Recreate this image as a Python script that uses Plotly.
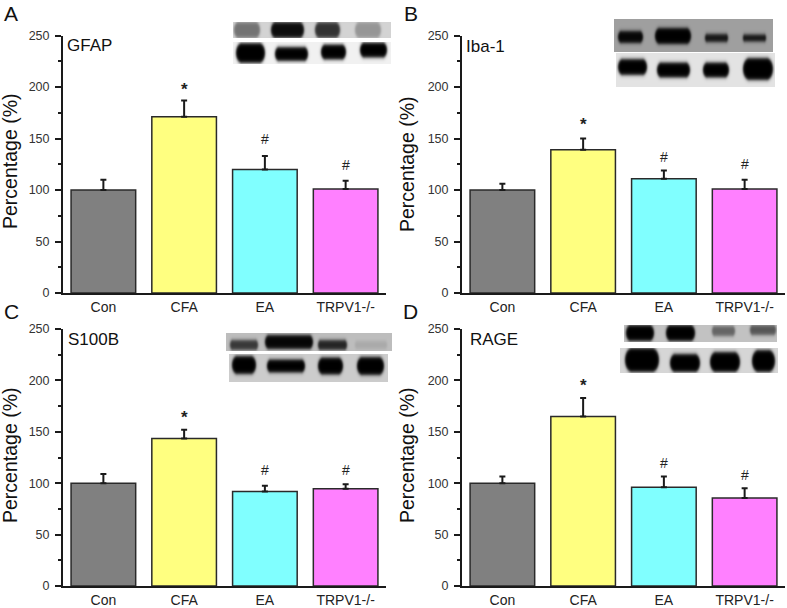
import base64, struct, zlib
import numpy as np
import plotly.graph_objects as go

W, H = 787, 608
categories = ["Con", "CFA", "EA", "TRPV1-/-"]
colors = ["#808080", "#FFFF80", "#80FFFF", "#FF80FF"]

gfap_values = [100, 171, 120, 101]
gfap_errors = [10, 16, 13, 8]
iba1_values = [100, 139, 111, 101]
iba1_errors = [6, 11, 8, 9]
s100b_values = [100, 143.5, 92, 94.5]
s100b_errors = [9, 8.5, 5.5, 4.5]
rage_values = [100, 165, 96, 85.5]
rage_errors = [6.5, 18, 10.5, 9.5]

gfap_marks = [None, "*", "#", "#"]
gfap_mark_y = [None, 198, 150, 124]
iba1_marks = [None, "*", "#", "#"]
iba1_mark_y = [None, 164, 132, 125]
s100b_marks = [None, "*", "#", "#"]
s100b_mark_y = [None, 164, 113, 113]
rage_marks = [None, "*", "#", "#"]
rage_mark_y = [None, 195, 120, 108]

# (letter, letter x, letter y, name, name x, name y, ylabel x, ylabel y, plot left, plot right, y top, y bottom)
panels = [
    ("A", 11, 13, "GFAP", 65, 45, 10, 162, 63, 386, 35.5, 293, gfap_values, gfap_errors, gfap_marks, gfap_mark_y),
    ("B", 411, 13, "Iba-1", 464, 47, 407, 165, 462, 785, 35.5, 293, iba1_values, iba1_errors, iba1_marks, iba1_mark_y),
    ("C", 11, 311, "S100B", 66, 339, 10, 456, 63, 386, 329, 586, s100b_values, s100b_errors, s100b_marks, s100b_mark_y),
    ("D", 410, 311, "RAGE", 468, 339, 407, 456, 462, 785, 329, 586, rage_values, rage_errors, rage_marks, rage_mark_y),
]

# Western-blot insets: (x0, x1, y0, y1, background, [(bx0, bx1, cy, half_h, darkness), ...])
blots = [
    (233, 391, 22, 38, 212, [(234, 260, 30, 8, 115), (271, 304, 30, 8, 12), (315, 340, 30, 8, 50), (355, 381, 30, 8, 150)]),
    (233, 391, 42, 64, 242, [(236, 265, 53, 10, 0), (275, 308, 54, 7, 0), (321, 346, 52, 7.5, 0), (360, 387, 50, 7.5, 0)]),
    (614, 773, 19, 52, 160, [(618, 643, 37, 6, 5), (655, 691, 36, 8, 0), (705, 728, 38, 4, 20), (743, 766, 38, 3.5, 20)]),
    (616, 775, 53, 87, 228, [(618, 647, 67, 8, 0), (657, 690, 70, 7.5, 0), (703, 729, 70, 7.5, 0), (743, 773, 69, 11, 0)]),
    (226, 392, 333, 351, 190, [(230, 258, 345, 5, 55), (265, 313, 342, 7, 5), (318, 347, 345, 5, 35), (355, 387, 345, 4, 170)]),
    (229, 388, 354, 382, 205, [(232, 256, 365, 9, 0), (267, 305, 366, 6.5, 0), (318, 343, 366, 8.5, 0), (357, 384, 366, 9, 0)]),
    (624, 777, 325, 342, 195, [(626, 654, 333, 8, 0), (666, 695, 333, 8, 0), (712, 735, 331, 5, 100), (750, 776, 330, 5, 85)]),
    (620, 778, 348, 373, 215, [(625, 659, 360, 12, 0), (670, 700, 363, 9, 0), (710, 740, 362, 10, 0), (752, 775, 361, 11, 0)]),
]


def png_uri(arr):
    h, w = arr.shape
    raw = b"".join(b"\x00" + arr[i].tobytes() for i in range(h))

    def chunk(t, d):
        return struct.pack(">I", len(d)) + t + d + struct.pack(">I", zlib.crc32(t + d) & 0xffffffff)

    data = b"\x89PNG\r\n\x1a\n" + chunk(b"IHDR", struct.pack(">IIBBBBB", w, h, 8, 0, 0, 0, 0)) \
        + chunk(b"IDAT", zlib.compress(raw)) + chunk(b"IEND", b"")
    return "data:image/png;base64," + base64.b64encode(data).decode()


def blot_image(x0, x1, y0, y1, bg, bands):
    xs, ys = np.meshgrid(np.arange(x0, x1) + 0.5, np.arange(y0, y1) + 0.5)
    img = np.full(xs.shape, float(bg))
    for bx0, bx1, cy, hh, dark in bands:
        cx, hw = (bx0 + bx1) / 2, (bx1 - bx0) / 2
        dx = np.maximum(np.abs(xs - cx) - (hw - hh * 0.6), 0) / (hh * 0.6)
        dy = np.abs(ys - cy) / hh
        r = np.sqrt(dx ** 2 + dy ** 2)
        a = 1 / (1 + np.exp((r - 1) * hh / 1.1))
        img = img * (1 - a) + dark * a
    return np.clip(img, 0, 255).astype(np.uint8)


fig = go.Figure()
annotations, images = [], []
FONT = "Liberation Sans, Arial, sans-serif"
INK = "#1a1a1a"

for i, p in enumerate(panels, start=1):
    letter, lx, ly, name, nx, ny, tx, ty, left, right, top, bottom, vals, errs, marks, mark_y = p
    xa, ya = ("x", "y") if i == 1 else (f"x{i}", f"y{i}")
    fig.add_trace(go.Bar(
        x=categories, y=vals, xaxis=xa, yaxis=ya, width=0.8, showlegend=False,
        marker=dict(color=colors, line=dict(color="#2a2a2a", width=1.5)),
        error_y=dict(type="data", symmetric=False, array=errs, arrayminus=[0] * 4,
                     color=INK, thickness=2, width=3),
    ))
    key = "" if i == 1 else str(i)
    fig.update_layout(**{
        f"xaxis{key}": dict(
            domain=[left / W, right / W], anchor=ya, range=[-0.5, 3.5], type="category",
            categoryorder="array", categoryarray=categories, showgrid=False, showline=True, linecolor=INK,
            linewidth=2, ticks="", automargin=False,
            tickfont=dict(family=FONT, size=14, color="#222"), zeroline=False,
        ),
        f"yaxis{key}": dict(
            domain=[1 - bottom / H, 1 - top / H], anchor=xa, range=[0, 250], tickvals=[0, 50, 100, 150, 200, 250],
            showgrid=False, showline=True, linecolor=INK, linewidth=2, zeroline=False, automargin=False,
            ticks="outside", ticklen=6, tickwidth=2, tickcolor=INK, ticklabelstandoff=3,
            minor=dict(tickvals=[25, 75, 125, 175, 225], ticks="outside", ticklen=3, tickwidth=1.5, tickcolor=INK, showgrid=False),
            tickfont=dict(family=FONT, size=12.5, color="#333"),
        ),
    })
    for cat, m, my in zip(categories, marks, mark_y):
        if m:
            annotations.append(dict(text=f"<b>{m}</b>" if m == "*" else m, x=cat, y=my, xref=xa, yref=ya, showarrow=False,
                                    xanchor="center", yanchor="middle",
                                    font=dict(family=FONT, size=17 if m == "*" else 14, color="#222")))
    annotations.append(dict(text=letter, x=lx / W, y=1 - ly / H, xref="paper", yref="paper", showarrow=False,
                            xanchor="center", yanchor="middle", font=dict(family=FONT, size=21, color="#111")))
    annotations.append(dict(text=name, x=nx / W, y=1 - ny / H, xref="paper", yref="paper", showarrow=False,
                            xanchor="left", yanchor="middle", font=dict(family=FONT, size=17, color="#111")))
    annotations.append(dict(text="Percentage (%)", x=tx / W, y=1 - ty / H, xref="paper", yref="paper", showarrow=False,
                            xanchor="center", yanchor="middle", textangle=-90, font=dict(family=FONT, size=19.5, color="#111")))

for x0, x1, y0, y1, bg, bands in blots:
    images.append(dict(source=png_uri(blot_image(x0, x1, y0, y1, bg, bands)), xref="paper", yref="paper",
                       x=x0 / W, y=1 - y0 / H, sizex=(x1 - x0) / W, sizey=(y1 - y0) / H,
                       xanchor="left", yanchor="top", sizing="stretch", layer="above"))

fig.update_layout(width=W, height=H, margin=dict(l=0, r=0, t=0, b=0), paper_bgcolor="white", plot_bgcolor="white",
                  annotations=annotations, images=images, showlegend=False)
fig.write_html("out.html", config=dict(displayModeBar=False), post_script="document.body.style.margin='0';")
